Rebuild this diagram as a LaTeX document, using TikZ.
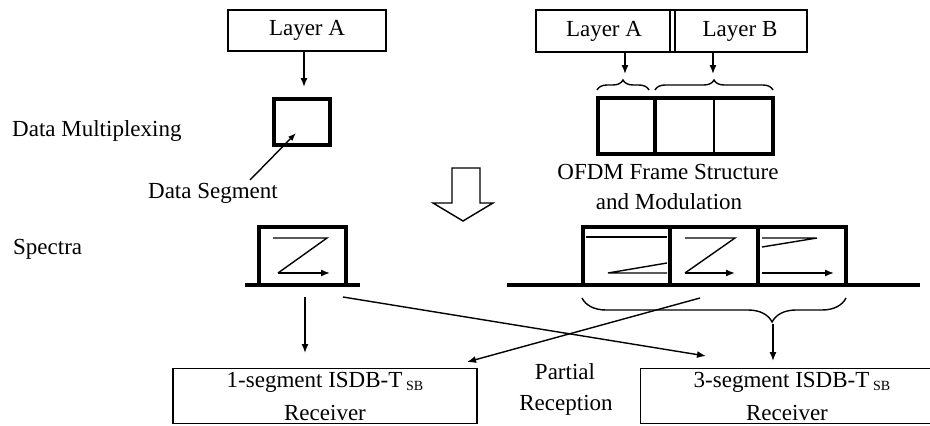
\documentclass[tikz,border=0pt]{standalone}
\usepackage{fontspec}
\setmainfont{Liberation Serif}
\usetikzlibrary{arrows.meta,decorations.pathreplacing}
\begin{document}
\begin{tikzpicture}[x=1pt,y=-1pt,
  font=\fontsize{23}{27}\selectfont,
  thinln/.style={line width=1.4pt},
  thickln/.style={line width=4.5pt},
  arr/.style={thinln,-{Latex[length=9pt,width=7pt]}},
  lbl/.style={inner sep=0pt,anchor=center},
  brc/.style={thinln,decorate,decoration={brace,amplitude=10pt}},
  boxn/.style={draw,thinln,inner sep=0pt}]
\useasboundingbox (0,0) rectangle (930,426);
\clip (0,0) rectangle (930,426);
% labels on the left
\node[lbl,anchor=west] (dm) at (12,131) {Data Multiplexing};
\node[lbl,anchor=west] (sp) at (13,249) {Spectra};
% left Layer A
\node[boxn,minimum width=158pt,minimum height=41pt] (la1) at (307,30.5) {Layer A};
\node[draw,thickln,minimum width=56pt,minimum height=46pt,inner sep=0pt] (seg) at (302,122) {};
\draw[arr] (la1.south -| 304,0) -- (304,87) coordinate (segtop);
\node[lbl] (ds) at (213,193) {Data Segment};
\coordinate (dsA) at (250,180);
\coordinate (dsB) at (296,133);
\draw[arr,-{Latex[length=8pt,width=6pt]}] (dsA) -- (dsB);
% right Layer A / B
\node[boxn,minimum width=271pt,minimum height=42pt] (lab) at (671.5,31) {};
\draw[thinln] (670,10) -- (670,52);
\draw[thinln] (675,10) -- (675,52);
\node[lbl] (la2) at (604,31) {Layer A};
\node[lbl] (lb2) at (740,31) {Layer B};
\coordinate (aA) at (625,52); \coordinate (aAe) at (625,74);
\coordinate (aB) at (713,52); \coordinate (aBe) at (713,74);
\draw[arr] (aA) -- (aAe);
\draw[arr] (aB) -- (aBe);
\draw[brc,decoration={amplitude=10pt}] (597,90) -- (649,90);
\draw[brc,decoration={amplitude=10pt}] (655,90) -- (773,90);
% OFDM frame
\node[draw,thickln,minimum width=57pt,minimum height=56pt,inner sep=0pt] (fa) at (626.5,126) {};
\node[draw,thickln,minimum width=118pt,minimum height=56pt,inner sep=0pt] (fb) at (714,126) {};
\draw[thinln] (fb.north) -- (fb.south);
\node[lbl] (ofdm1) at (668,172) {OFDM Frame Structure};
\node[lbl] (ofdm2) at (669,202) {and Modulation};
% hollow arrow
\draw[thinln,fill=white] (452,168) -- (480,168) -- (480,203) -- (493,203) -- (463,221) -- (433,203) -- (452,203) -- cycle;
% small spectrum
\draw[thickln] (245,285) -- (360,285);
\draw[thickln] (259,285) -- (259,227) -- (346,227) -- (346,285);
\draw[thinln] (273,238) -- (327,238) -- (278,273);
\draw[arr] (278,273) -- (330,273);
\coordinate (sspR) at (343,297);
\coordinate (sspB) at (305,297);
% large spectrum
\draw[thickln] (507,285) -- (920,285);
\draw[thickln] (583,285) -- (583,227) -- (846,227) -- (846,285);
\draw[thickln] (670,227) -- (670,285);
\draw[thickln] (758,227) -- (758,285);
\draw[thinln] (586,237) -- (667,237);
\draw[thinln] (667,263) -- (608,273) -- (667,273);
\draw[thinln] (685,238) -- (735,238) -- (685,273);
\draw[arr] (685,273) -- (735,273);
\draw[thinln] (762,238) -- (817,238) -- (762,247);
\draw[arr] (762,273) -- (834,273);
\draw[brc,decoration={amplitude=24pt,aspect=0.28}] (846,298) -- (582,298);
\coordinate (brtip) at (773,324);
\coordinate (lspS) at (700,298);
% receivers
\node[boxn,minimum width=304pt,minimum height=55pt] (r1) at (325,396) {};
\node[lbl] (r1a) at (325,382) {1-segment ISDB-T\,\raisebox{-0.35ex}{\fontsize{14}{14}\selectfont SB}};
\node[lbl] (r1b) at (325,413) {Receiver};
\node[boxn,minimum width=300pt,minimum height=55pt,anchor=west] (r3) at (640,396) {};
\node[lbl] (r3a) at (792,382) {3-segment ISDB-T\,\raisebox{-0.35ex}{\fontsize{14}{14}\selectfont SB}};
\node[lbl] (r3b) at (787,413) {Receiver};
\node[lbl] (pr1) at (565,372) {Partial};
\node[lbl] (pr2) at (566,405) {Reception};
% connectors
\coordinate (r1in) at (467,362);
\coordinate (r3in) at (706,356);
\draw[arr] (sspB) -- (305,353);
\draw[arr] (brtip) -- (773,361);
\draw[arr] (sspR) -- (r3in);
\draw[arr] (lspS) -- (r1in);
\end{tikzpicture}
\end{document}
